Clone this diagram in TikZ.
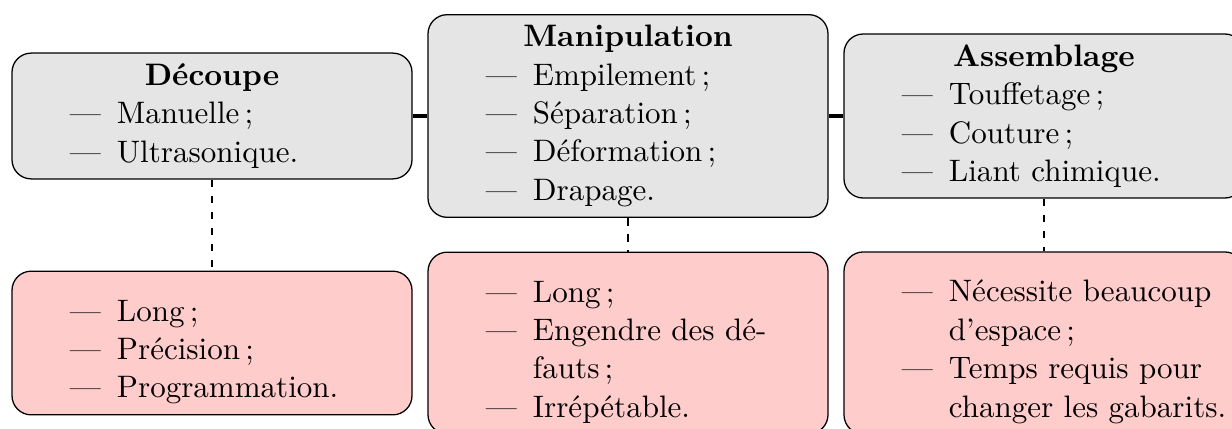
\documentclass[tikz,border=0pt]{standalone}
\usepackage{fontspec}

\tikzset{
  card/.style={draw=black, rounded corners=6pt, align=left,
    inner xsep=3.5pt, inner ysep=3.3pt,
    font=\fontsize{9.7pt}{12pt}\selectfont},
  stage/.style={card, fill=gray!20},
  drawback/.style={card, fill=red!20},
  link/.style={line width=1pt},
  dep/.style={line width=0.9pt, dash pattern=on 2.4pt off 2.6pt},
}
% one line of a card: centred title, dashed entry, or continued entry
\newcommand{\cardtitle}[1]{\makebox[118pt][c]{\textbf{#1}}}
\newcommand{\cardentry}[1]{\makebox[118pt][l]{\hspace{14.6pt}\makebox[14.7pt][l]{\textemdash}#1}}
\newcommand{\cardcont}[1]{\makebox[118pt][l]{\hspace{29.3pt}#1}}
\newcommand{\firstgap}{\rule{0pt}{12.3pt}}

\begin{document}
\begin{tikzpicture}[x=0.3125pt, y=-0.3125pt]
  \useasboundingbox (0,0) rectangle (1232,428);
  \clip (0,0) rectangle (1232,428);

  % process stages
  \node[stage] (decoupe) at (212,116)
    {\cardtitle{Découpe}\\
     \cardentry{Manuelle\,;}\\
     \cardentry{Ultrasonique.}};
  \node[stage] (manip) at (628,116)
    {\cardtitle{Manipulation}\\
     \cardentry{Empilement\,;}\\
     \cardentry{Séparation\,;}\\
     \cardentry{Déformation\,;}\\
     \cardentry{Drapage.}};
  \node[stage] (assemb) at (1044,116)
    {\cardtitle{Assemblage}\\
     \cardentry{Touffetage\,;}\\
     \cardentry{Couture\,;}\\
     \cardentry{Liant chimique.}};

  % drawbacks of each stage
  \node[drawback] (decoupeD) at (212,343)
    {\firstgap\cardentry{Long\,;}\\
     \cardentry{Précision\,;}\\
     \cardentry{Programmation.}};
  \node[drawback] (manipD) at (628,343)
    {\firstgap\cardentry{Long\,;}\\
     \cardentry{Engendre des dé-}\\
     \cardcont{fauts\,;}\\
     \cardentry{Irrépétable.}};
  \node[drawback] (assembD) at (1044,343)
    {\firstgap\cardentry{Nécessite beaucoup}\\
     \cardcont{d’espace\,;}\\
     \cardentry{Temps requis pour}\\
     \cardcont{changer les gabarits.}};

  % chain of stages
  \draw[link] (decoupe) -- (manip);
  \draw[link] (manip) -- (assemb);

  % stage to drawbacks
  \draw[dep] (decoupe) -- (decoupeD);
  \draw[dep] (manip) -- (manipD);
  \draw[dep] (assemb) -- (assembD);
\end{tikzpicture}
\end{document}
